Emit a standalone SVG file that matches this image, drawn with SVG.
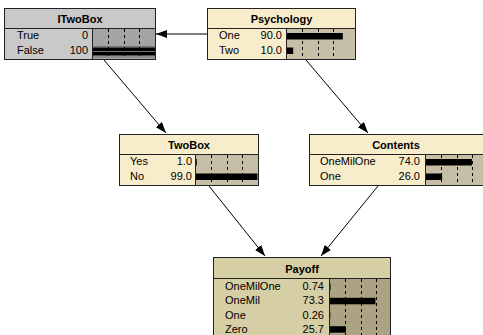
<svg xmlns="http://www.w3.org/2000/svg" width="483" height="335" viewBox="0 0 483 335">
<defs>
<marker id="ah" markerWidth="11" markerHeight="8" refX="11" refY="4" orient="auto" markerUnits="userSpaceOnUse">
<path d="M0,0 L11,4 L0,8 Z" fill="#000"/>
</marker>
<style>
.box{stroke:#222;stroke-width:1}
.cream{fill:#f8edcb}
.tan{fill:#c6bea6}
.khaki{fill:#d6cea4}
.khbar{fill:#aca385}
.grey{fill:#c9c9c9}
.greybar{fill:#a4a4a4}
.sep{stroke:#222;stroke-width:1;fill:none}
.dash{stroke:#000;stroke-width:1;stroke-dasharray:3,3;fill:none}
.title{font-family:"Liberation Sans",Arial,sans-serif;font-size:11px;font-weight:bold;text-anchor:middle;fill:#000}
.lbl{font-family:"Liberation Sans",Arial,sans-serif;font-size:11px;fill:#000}
.val{font-family:"Liberation Sans",Arial,sans-serif;font-size:11px;fill:#000;text-anchor:end}
.bar{fill:#000}
.edge{stroke:#000;stroke-width:1;fill:none}
</style>
</defs>
<rect width="483" height="335" fill="#fff"/>

<g id="connectors">
<line class="edge" x1="207" y1="34" x2="156" y2="34" marker-end="url(#ah)"/>
<line class="edge" x1="104" y1="60" x2="166" y2="133" marker-end="url(#ah)"/>
<line class="edge" x1="306" y1="60" x2="368" y2="133" marker-end="url(#ah)"/>
<line class="edge" x1="209" y1="186" x2="265" y2="256" marker-end="url(#ah)"/>
<line class="edge" x1="378" y1="186" x2="321" y2="256" marker-end="url(#ah)"/>
</g>

<g id="ITwoBox">
<rect class="box grey" x="4.5" y="8.5" width="151" height="51"/>
<rect class="greybar" x="93" y="29" width="62" height="30"/>
<line class="sep" x1="4.5" y1="28.5" x2="155.5" y2="28.5"/>
<line class="sep" x1="92.5" y1="28.5" x2="92.5" y2="59.5"/>
<line class="dash" x1="108.5" y1="29" x2="108.5" y2="59"/>
<line class="dash" x1="124.5" y1="29" x2="124.5" y2="59"/>
<line class="dash" x1="139.5" y1="29" x2="139.5" y2="59"/>
<text class="title" x="80" y="22.5">ITwoBox</text>
<text class="lbl" x="17" y="39">True</text>
<text class="val" x="88" y="39">0</text>
<text class="lbl" x="17" y="53.5">False</text>
<text class="val" x="88" y="53.5">100</text>
<rect class="bar" x="93" y="47.5" width="62" height="8"/>
<line x1="93" y1="51.5" x2="155" y2="51.5" stroke="#777" stroke-width="1"/>
<line x1="93" y1="46.5" x2="155" y2="46.5" stroke="#777" stroke-width="1"/>
<line x1="93" y1="57" x2="155" y2="57" stroke="#777" stroke-width="1"/>
</g>

<g id="Psychology">
<rect class="box cream" x="207.5" y="8.5" width="148" height="51"/>
<rect class="tan" x="287" y="29" width="68" height="30"/>
<line class="sep" x1="207.5" y1="28.5" x2="355.5" y2="28.5"/>
<line class="sep" x1="286.5" y1="28.5" x2="286.5" y2="59.5"/>
<line class="dash" x1="302.5" y1="29" x2="302.5" y2="59"/>
<line class="dash" x1="318.5" y1="29" x2="318.5" y2="59"/>
<line class="dash" x1="333.5" y1="29" x2="333.5" y2="59"/>
<text class="title" x="281.5" y="22.5">Psychology</text>
<text class="lbl" x="219" y="39">One</text>
<text class="val" x="282" y="39">90.0</text>
<text class="lbl" x="219" y="53.5">Two</text>
<text class="val" x="282" y="53.5">10.0</text>
<rect class="bar" x="287" y="33" width="55.8" height="6.5"/>
<rect class="bar" x="287" y="47.5" width="6.2" height="6.5"/>
</g>

<g id="TwoBox">
<rect class="box cream" x="119.5" y="134.5" width="139" height="51"/>
<rect class="tan" x="196" y="155" width="62" height="30"/>
<line class="sep" x1="119.5" y1="154.5" x2="258.5" y2="154.5"/>
<line class="sep" x1="195.5" y1="154.5" x2="195.5" y2="185.5"/>
<line class="dash" x1="211.5" y1="155" x2="211.5" y2="185"/>
<line class="dash" x1="227.5" y1="155" x2="227.5" y2="185"/>
<line class="dash" x1="242.5" y1="155" x2="242.5" y2="185"/>
<text class="title" x="189" y="148.5">TwoBox</text>
<text class="lbl" x="130" y="165">Yes</text>
<text class="val" x="192" y="165">1.0</text>
<text class="lbl" x="130" y="179.5">No</text>
<text class="val" x="192" y="179.5">99.0</text>
<rect class="bar" x="196" y="159" width="0.8" height="6.5"/>
<rect class="bar" x="196" y="173.5" width="61.4" height="6.5"/>
</g>

<g id="Contents">
<rect class="box cream" x="309.5" y="134.5" width="176" height="51"/>
<rect class="tan" x="426" y="155" width="60" height="30"/>
<line class="sep" x1="309.5" y1="154.5" x2="485.5" y2="154.5"/>
<line class="sep" x1="425.5" y1="154.5" x2="425.5" y2="185.5"/>
<line class="dash" x1="441.5" y1="155" x2="441.5" y2="185"/>
<line class="dash" x1="457.5" y1="155" x2="457.5" y2="185"/>
<line class="dash" x1="472.5" y1="155" x2="472.5" y2="185"/>
<text class="title" x="396" y="148.5">Contents</text>
<text class="lbl" x="320" y="165">OneMilOne</text>
<text class="val" x="420" y="165">74.0</text>
<text class="lbl" x="320" y="179.5">One</text>
<text class="val" x="420" y="179.5">26.0</text>
<rect class="bar" x="426" y="159" width="45.9" height="6.5"/>
<rect class="bar" x="426" y="173.5" width="16.1" height="6.5"/>
</g>

<g id="Payoff">
<rect class="box khaki" x="213.5" y="257.5" width="177" height="90"/>
<rect class="khbar" x="330" y="278" width="60" height="69"/>
<line class="sep" x1="213.5" y1="278.5" x2="390.5" y2="278.5"/>
<line class="sep" x1="329.5" y1="278.5" x2="329.5" y2="347"/>
<line class="dash" x1="345.5" y1="279" x2="345.5" y2="347"/>
<line class="dash" x1="361.5" y1="279" x2="361.5" y2="347"/>
<line class="dash" x1="376.5" y1="279" x2="376.5" y2="347"/>
<text class="title" x="302" y="272.5">Payoff</text>
<text class="lbl" x="225" y="290">OneMilOne</text>
<text class="val" x="324" y="290">0.74</text>
<text class="lbl" x="225" y="304.3">OneMil</text>
<text class="val" x="324" y="304.3">73.3</text>
<text class="lbl" x="225" y="318.5">One</text>
<text class="val" x="324" y="318.5">0.26</text>
<text class="lbl" x="225" y="332.7">Zero</text>
<text class="val" x="324" y="332.7">25.7</text>
<rect class="bar" x="330" y="283.5" width="0.6" height="6.5"/>
<rect class="bar" x="330" y="297.8" width="45.4" height="6.5"/>
<rect class="bar" x="330" y="312" width="0.3" height="6.5"/>
<rect class="bar" x="330" y="326.2" width="15.9" height="6.5"/>
</g>
</svg>
